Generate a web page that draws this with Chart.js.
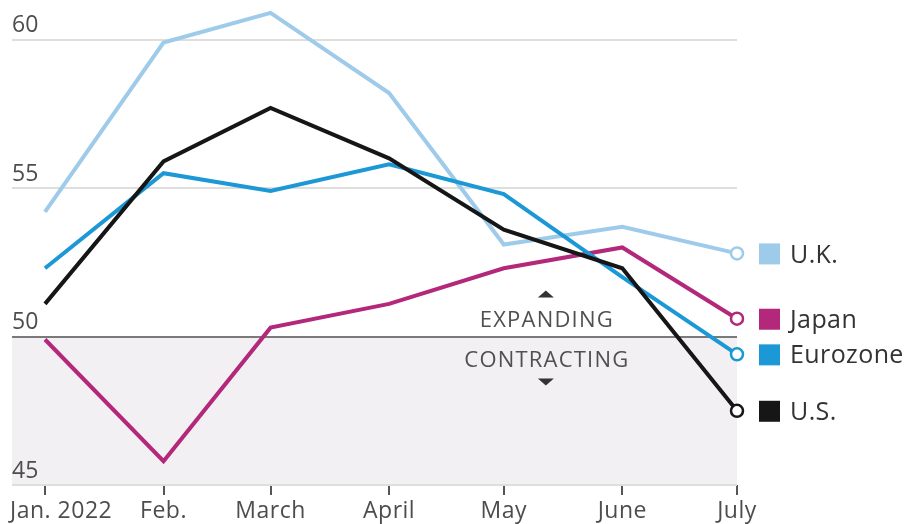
<!DOCTYPE html>
<html>
<head>
<meta charset="utf-8">
<script src="https://cdn.jsdelivr.net/npm/chart.js@4/dist/chart.umd.min.js"></script>
<style>
  html, body { margin: 0; padding: 0; background: #fff; }
  #wrap { width: 911px; height: 524px; position: relative; }
</style>
</head>
<body>
<div id="wrap"><canvas id="pmi"></canvas></div>
<script>
// Composite PMI readings, January–July 2022
const categories = ['Jan. 2022', 'Feb.', 'March', 'April', 'May', 'June', 'July'];
const monthStarts = ['2022-01-01', '2022-02-01', '2022-03-01', '2022-04-01', '2022-05-01', '2022-06-01', '2022-07-01'];
const yTicks = [45, 50, 55, 60];
const seriesNames = ['U.K.', 'Japan', 'Eurozone', 'U.S.'];
const ukValues = [54.2, 59.9, 60.9, 58.2, 53.1, 53.7, 52.8];
const japanValues = [49.9, 45.8, 50.3, 51.1, 52.3, 53.0, 50.6];
const eurozoneValues = [52.3, 55.5, 54.9, 55.8, 54.8, 52.0, 49.4];
const usValues = [51.1, 55.9, 57.7, 56.0, 53.6, 52.3, 47.5];
const threshold = 50;

const FONT = '"Open Sans", "DejaVu Sans", sans-serif';
const colors = { 'U.K.': '#9ecbea', 'Japan': '#b3287a', 'Eurozone': '#1b98d5', 'U.S.': '#161616' };

// x positions in days since the first month, so months are spaced by their length
const dayOffsets = monthStarts.map(d => (Date.parse(d) - Date.parse(monthStarts[0])) / 86400000);
const lastIdx = categories.length - 1;

function makeSeries(name, values, order) {
  return {
    label: name,
    data: values.map((v, i) => ({ x: dayOffsets[i], y: v })),
    borderColor: colors[name],
    backgroundColor: '#ffffff',
    borderWidth: 4,
    pointRadius: ctx => ctx.dataIndex === lastIdx ? 6 : 0,
    pointHoverRadius: 0,
    pointBorderWidth: 2.5,
    pointBorderColor: colors[name],
    pointBackgroundColor: '#ffffff',
    tension: 0,
    clip: false,
    order: order
  };
}

// light band for the contraction zone, below the 50 line
const shadePlugin = {
  id: 'shade',
  beforeDraw(chart) {
    const { ctx, chartArea, scales: { y } } = chart;
    const top = y.getPixelForValue(threshold);
    const bottom = y.getPixelForValue(y.min);
    ctx.save();
    ctx.fillStyle = '#f2f0f2';
    ctx.fillRect(12, top, chartArea.right - 12, bottom - top);
    ctx.restore();
  }
};

// EXPANDING / CONTRACTING notes with arrows either side of the 50 line
const zonePlugin = {
  id: 'zones',
  beforeDatasetsDraw(chart) {
    const { ctx, scales: { x, y } } = chart;
    const cx = x.getPixelForValue(131);
    const ly = y.getPixelForValue(threshold);
    ctx.save();
    ctx.fillStyle = '#505050';
    ctx.font = '22px ' + FONT;
    ctx.letterSpacing = '1.2px';
    ctx.textAlign = 'center';
    ctx.textBaseline = 'alphabetic';
    ctx.fillText('EXPANDING', cx + 1, ly - 10);
    ctx.fillText('CONTRACTING', cx + 1, ly + 30);
    ctx.fillStyle = '#333';
    ctx.beginPath();
    ctx.moveTo(cx - 8, ly - 39); ctx.lineTo(cx + 8, ly - 39); ctx.lineTo(cx, ly - 46); ctx.closePath();
    ctx.fill();
    ctx.beginPath();
    ctx.moveTo(cx - 8, ly + 42); ctx.lineTo(cx + 8, ly + 42); ctx.lineTo(cx, ly + 49); ctx.closePath();
    ctx.fill();
    ctx.restore();
  }
};

// month labels under the tick marks, kept inside the canvas
const xLabelPlugin = {
  id: 'xLabels',
  afterDraw(chart) {
    const { ctx, chartArea, scales: { x } } = chart;
    ctx.save();
    ctx.fillStyle = '#4d4d4d';
    ctx.font = '23px ' + FONT;
    ctx.letterSpacing = '0.5px';
    ctx.textAlign = 'left';
    ctx.textBaseline = 'alphabetic';
    categories.forEach((label, i) => {
      const w = ctx.measureText(label).width;
      let left = x.getPixelForValue(dayOffsets[i]) - w / 2;
      left = Math.max(10, Math.min(left, chart.width - w - 2));
      ctx.fillText(label, left, chartArea.bottom + 33);
    });
    ctx.restore();
  }
};

// labels at the line ends, aligned with each series' last value
const endLegendPlugin = {
  id: 'endLegend',
  afterDraw(chart) {
    const { ctx, chartArea, scales: { y } } = chart;
    ctx.save();
    ctx.font = '25px ' + FONT;
    ctx.letterSpacing = '0.4px';
    ctx.textBaseline = 'middle';
    chart.data.datasets.forEach(ds => {
      const py = y.getPixelForValue(ds.data[lastIdx].y);
      ctx.fillStyle = ds.borderColor;
      ctx.fillRect(chartArea.right + 22, py - 10, 21, 21);
      ctx.fillStyle = '#333';
      ctx.fillText(ds.label, chartArea.right + 53, py + 2);
    });
    ctx.restore();
  }
};

new Chart(document.getElementById('pmi'), {
  type: 'line',
  data: {
    datasets: [
      makeSeries(seriesNames[0], ukValues, 4),
      makeSeries(seriesNames[1], japanValues, 3),
      makeSeries(seriesNames[2], eurozoneValues, 2),
      makeSeries(seriesNames[3], usValues, 1)
    ]
  },
  options: {
    responsive: true,
    maintainAspectRatio: false,
    animation: false,
    events: [],
    layout: { autoPadding: false, padding: { left: 12, right: 174, top: 4, bottom: 0 } },
    plugins: { legend: { display: false }, tooltip: { enabled: false } },
    scales: {
      x: {
        type: 'linear',
        min: dayOffsets[0],
        max: dayOffsets[lastIdx],
        afterBuildTicks: s => { s.ticks = dayOffsets.map(v => ({ value: v })); },
        afterFit: s => { s.height = 39; s.paddingLeft = 0; s.paddingRight = 0; },
        border: { display: false },
        grid: { drawOnChartArea: false, drawTicks: true, tickLength: 10, color: '#555', lineWidth: 2 },
        ticks: { display: false }
      },
      y: {
        min: 45,
        max: 61.2,
        afterBuildTicks: s => { s.ticks = yTicks.map(v => ({ value: v })); },
        afterFit: s => { s.width = 33; s.paddingTop = 0; s.paddingBottom = 0; },
        border: { display: false },
        grid: {
          color: c => (c.tick && c.tick.value === threshold) ? '#7a7a7a' : '#dedede',
          lineWidth: 2,
          drawTicks: true,
          tickLength: 33
        },
        ticks: {
          crossAlign: 'far',
          padding: 0,
          labelOffset: -14,
          color: '#4d4d4d',
          font: { family: FONT, size: 23 }
        }
      }
    }
  },
  plugins: [shadePlugin, zonePlugin, xLabelPlugin, endLegendPlugin]
});
</script>
</body>
</html>
